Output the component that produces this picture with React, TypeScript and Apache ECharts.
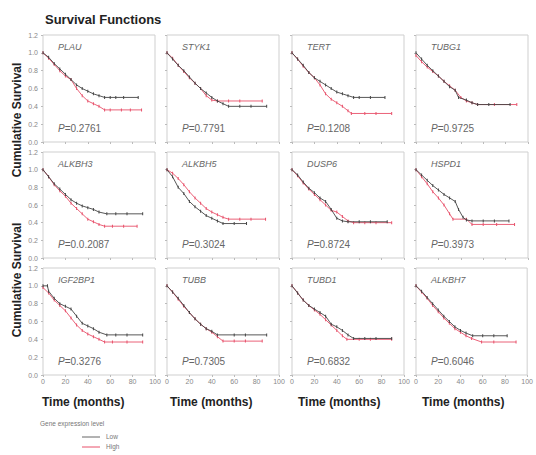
import React, { useEffect, useRef } from "react";
import * as echarts from "echarts";

const genes = ["PLAU", "STYK1", "TERT", "TUBG1", "ALKBH3", "ALKBH5", "DUSP6", "HSPD1", "IGF2BP1", "TUBB", "TUBD1", "ALKBH7"];
const pValues = ["0.2761", "0.7791", "0.1208", "0.9725", "0.0.2087", "0.3024", "0.8724", "0.3973", "0.3276", "0.7305", "0.6832", "0.6046"];

const PLAU_low = [[0, 1], [5, 0.95], [10, 0.88], [15, 0.82], [20, 0.76], [25, 0.7], [30, 0.64], [35, 0.6], [40, 0.57], [45, 0.54], [50, 0.52], [55, 0.5], [60, 0.5], [65, 0.5], [72, 0.5], [85, 0.5]];
const PLAU_high = [[0, 1], [5, 0.94], [10, 0.87], [15, 0.8], [20, 0.74], [25, 0.7], [30, 0.6], [35, 0.52], [40, 0.46], [45, 0.43], [50, 0.4], [55, 0.36], [60, 0.36], [70, 0.36], [78, 0.36], [88, 0.36]];
const STYK1_low = [[0, 1], [5, 0.93], [10, 0.86], [15, 0.8], [20, 0.73], [25, 0.66], [30, 0.6], [35, 0.55], [40, 0.5], [45, 0.46], [50, 0.43], [55, 0.4], [65, 0.4], [75, 0.4], [89, 0.4]];
const STYK1_high = [[0, 1], [5, 0.94], [10, 0.86], [15, 0.79], [20, 0.72], [25, 0.66], [30, 0.6], [35, 0.52], [40, 0.47], [45, 0.46], [55, 0.46], [65, 0.46], [85, 0.46]];
const TERT_low = [[0, 1], [5, 0.93], [10, 0.86], [15, 0.78], [20, 0.72], [25, 0.68], [30, 0.64], [35, 0.6], [40, 0.56], [45, 0.54], [50, 0.52], [55, 0.5], [60, 0.5], [70, 0.5], [83, 0.5]];
const TERT_high = [[0, 1], [5, 0.93], [10, 0.85], [15, 0.78], [20, 0.72], [25, 0.64], [30, 0.54], [35, 0.48], [40, 0.44], [45, 0.4], [50, 0.35], [53, 0.32], [65, 0.32], [75, 0.32], [89, 0.32]];
const TUBG1_low = [[0, 1], [5, 0.93], [10, 0.86], [15, 0.8], [20, 0.74], [25, 0.68], [30, 0.62], [35, 0.58], [38, 0.5], [45, 0.47], [50, 0.44], [55, 0.42], [65, 0.42], [84, 0.42]];
const TUBG1_high = [[0, 0.97], [5, 0.9], [10, 0.84], [15, 0.79], [20, 0.74], [25, 0.68], [30, 0.63], [35, 0.58], [40, 0.5], [45, 0.46], [50, 0.44], [55, 0.42], [70, 0.42], [90, 0.42]];
const ALKBH3_low = [[0, 1], [5, 0.92], [10, 0.84], [15, 0.78], [20, 0.72], [25, 0.66], [30, 0.62], [35, 0.59], [40, 0.57], [45, 0.55], [50, 0.52], [57, 0.5], [65, 0.5], [75, 0.5], [89, 0.5]];
const ALKBH3_high = [[0, 1], [5, 0.92], [10, 0.83], [15, 0.76], [20, 0.7], [25, 0.62], [30, 0.56], [35, 0.5], [40, 0.44], [45, 0.41], [50, 0.38], [55, 0.36], [62, 0.36], [72, 0.36], [84, 0.36]];
const ALKBH5_low = [[0, 1], [5, 0.92], [10, 0.8], [15, 0.73], [20, 0.64], [25, 0.58], [30, 0.53], [35, 0.48], [40, 0.45], [45, 0.42], [50, 0.39], [60, 0.39], [71, 0.39]];
const ALKBH5_high = [[0, 1], [5, 0.96], [10, 0.9], [15, 0.83], [20, 0.75], [25, 0.68], [30, 0.62], [35, 0.56], [40, 0.52], [45, 0.49], [50, 0.46], [55, 0.44], [65, 0.44], [75, 0.44], [88, 0.44]];
const DUSP6_low = [[0, 1], [5, 0.94], [10, 0.86], [15, 0.79], [20, 0.74], [25, 0.68], [30, 0.64], [35, 0.55], [40, 0.45], [45, 0.42], [50, 0.41], [60, 0.41], [70, 0.41], [85, 0.41]];
const DUSP6_high = [[0, 1], [5, 0.93], [10, 0.85], [15, 0.78], [20, 0.72], [25, 0.66], [30, 0.6], [35, 0.54], [40, 0.52], [45, 0.47], [50, 0.42], [55, 0.4], [65, 0.4], [75, 0.4], [89, 0.4]];
const HSPD1_low = [[0, 1], [5, 0.94], [10, 0.88], [15, 0.82], [20, 0.77], [25, 0.72], [30, 0.68], [35, 0.64], [38, 0.55], [42, 0.46], [45, 0.43], [50, 0.42], [60, 0.42], [70, 0.42], [83, 0.42]];
const HSPD1_high = [[0, 1], [5, 0.92], [10, 0.84], [15, 0.75], [20, 0.68], [25, 0.6], [30, 0.5], [33, 0.44], [45, 0.44], [50, 0.38], [60, 0.38], [72, 0.38], [88, 0.38]];
const IGF2BP1_low = [[0, 1], [4, 1.0], [5, 0.94], [10, 0.86], [15, 0.8], [20, 0.77], [25, 0.74], [30, 0.66], [35, 0.58], [40, 0.55], [45, 0.52], [50, 0.48], [57, 0.45], [65, 0.45], [75, 0.45], [89, 0.45]];
const IGF2BP1_high = [[0, 0.98], [5, 0.92], [10, 0.84], [15, 0.78], [20, 0.72], [25, 0.64], [30, 0.56], [35, 0.5], [40, 0.46], [45, 0.43], [50, 0.4], [55, 0.37], [62, 0.37], [75, 0.37], [89, 0.37]];
const TUBB_low = [[0, 1], [5, 0.93], [10, 0.86], [15, 0.78], [20, 0.7], [25, 0.63], [30, 0.57], [35, 0.52], [40, 0.49], [45, 0.45], [60, 0.45], [70, 0.45], [89, 0.45]];
const TUBB_high = [[0, 1], [5, 0.93], [10, 0.85], [15, 0.77], [20, 0.7], [25, 0.63], [30, 0.57], [35, 0.52], [40, 0.48], [45, 0.43], [50, 0.38], [60, 0.38], [70, 0.38], [85, 0.38]];
const TUBD1_low = [[0, 1], [5, 0.92], [10, 0.84], [15, 0.78], [20, 0.74], [25, 0.7], [30, 0.66], [35, 0.57], [40, 0.54], [45, 0.5], [50, 0.45], [55, 0.41], [65, 0.41], [75, 0.41], [89, 0.41]];
const TUBD1_high = [[0, 1], [5, 0.92], [10, 0.84], [15, 0.78], [20, 0.73], [25, 0.68], [30, 0.62], [35, 0.56], [40, 0.5], [45, 0.44], [49, 0.4], [60, 0.4], [70, 0.4], [89, 0.4]];
const ALKBH7_low = [[0, 1], [5, 0.94], [10, 0.87], [15, 0.8], [20, 0.73], [25, 0.66], [30, 0.6], [35, 0.54], [40, 0.5], [45, 0.47], [51, 0.44], [60, 0.44], [70, 0.44], [82, 0.44]];
const ALKBH7_high = [[0, 1], [5, 0.93], [10, 0.86], [15, 0.78], [20, 0.71], [25, 0.64], [30, 0.58], [35, 0.52], [40, 0.48], [45, 0.44], [50, 0.41], [59, 0.37], [70, 0.37], [90, 0.37]];

const lowCurves = [PLAU_low, STYK1_low, TERT_low, TUBG1_low, ALKBH3_low, ALKBH5_low, DUSP6_low, HSPD1_low, IGF2BP1_low, TUBB_low, TUBD1_low, ALKBH7_low];
const highCurves = [PLAU_high, STYK1_high, TERT_high, TUBG1_high, ALKBH3_high, ALKBH5_high, DUSP6_high, HSPD1_high, IGF2BP1_high, TUBB_high, TUBD1_high, ALKBH7_high];

const legendLabels = ["Low", "High"];

const colLefts = [43, 167, 292, 416];
const rowTops = [35, 152, 268];
const rowHeights = [107, 106, 107];
const panelW = 112;
const FONT = "Liberation Sans, Arial, sans-serif";
const LOW_COLOR = "#444";
const HIGH_COLOR = "#e8506a";

export default function App() {
  const ref = useRef<HTMLDivElement>(null);
  useEffect(() => {
    if (!ref.current) return;
    const chart = echarts.init(ref.current, null, { renderer: "svg" });
    const grids: any[] = [];
    const xAxes: any[] = [];
    const yAxes: any[] = [];
    const series: any[] = [];
    const graphics: any[] = [];

    genes.forEach((g, i) => {
      const r = Math.floor(i / 4);
      const c = i % 4;
      grids.push({
        left: colLefts[c],
        top: rowTops[r],
        width: panelW,
        height: rowHeights[r],
        show: true,
        borderColor: "#cfcfcf",
        borderWidth: 1,
        backgroundColor: "#fff",
      });
      xAxes.push({
        type: "value",
        gridIndex: i,
        min: 0,
        max: 100,
        interval: 20,
        axisLine: { show: false },
        axisTick: { show: true, length: 2, lineStyle: { color: "#bbb" } },
        splitLine: { show: false },
        axisLabel: {
          show: r === 2,
          fontSize: 7,
          color: "#888",
          margin: 3,
          fontFamily: FONT,
          showMaxLabel: true,
          showMinLabel: true,
        },
      });
      yAxes.push({
        type: "value",
        gridIndex: i,
        min: 0,
        max: 1.2,
        interval: 0.2,
        axisLine: { show: false },
        axisTick: { show: true, length: 2, lineStyle: { color: "#bbb" } },
        splitLine: { show: false },
        axisLabel: {
          show: c === 0,
          fontSize: 7,
          color: "#888",
          margin: 5,
          fontFamily: FONT,
          formatter: (v: number) => v.toFixed(1),
        },
      });
      series.push({
        type: "line",
        name: legendLabels[0],
        xAxisIndex: i,
        yAxisIndex: i,
        data: lowCurves[i],
        symbol: "rect",
        symbolSize: [1, 3],
        showSymbol: true,
        lineStyle: { color: LOW_COLOR, width: 0.9 },
        itemStyle: { color: LOW_COLOR },
        z: 3,
      });
      series.push({
        type: "line",
        name: legendLabels[1],
        xAxisIndex: i,
        yAxisIndex: i,
        data: highCurves[i],
        symbol: "rect",
        symbolSize: [1, 3],
        showSymbol: true,
        lineStyle: { color: HIGH_COLOR, width: 0.9 },
        itemStyle: { color: HIGH_COLOR },
        z: 2,
      });
      graphics.push({
        type: "text",
        left: colLefts[c] + 15,
        top: rowTops[r] + 7,
        style: {
          text: g,
          fontSize: 9,
          fontStyle: "italic",
          fill: "#666",
          fontFamily: FONT,
        },
      });
      graphics.push({
        type: "text",
        left: colLefts[c] + 15,
        top: rowTops[r] + rowHeights[r] - 19,
        style: {
          text: "{p|P}=" + pValues[i],
          fontSize: 10,
          fill: "#666",
          fontFamily: FONT,
          rich: { p: { fontStyle: "italic", fontSize: 10, fill: "#666", fontFamily: FONT } },
        },
      });
    });

    const timeLefts = [42, 170, 298, 422];
    timeLefts.forEach((x) => {
      graphics.push({
        type: "text",
        left: x,
        top: 396,
        style: { text: "Time (months)", fontSize: 12, fontWeight: "bold", fill: "#222", fontFamily: FONT },
      });
    });

    [120, 280].forEach((cy) => {
      graphics.push({
        type: "text",
        x: 17,
        y: cy,
        rotation: Math.PI / 2,
        style: {
          text: "Cumulative Survival",
          fontSize: 12,
          fontWeight: "bold",
          fill: "#222",
          fontFamily: FONT,
          align: "center",
          verticalAlign: "middle",
        },
      });
    });

    graphics.push({
      type: "text",
      left: 40,
      top: 420,
      style: { text: "Gene expression level", fontSize: 6.5, fill: "#777", fontFamily: FONT },
    });
    graphics.push({ type: "line", shape: { x1: 82, y1: 437, x2: 100, y2: 437 }, style: { stroke: "#666", lineWidth: 1 } });
    graphics.push({ type: "line", shape: { x1: 82, y1: 447, x2: 100, y2: 447 }, style: { stroke: HIGH_COLOR, lineWidth: 1 } });
    graphics.push({
      type: "text",
      left: 106,
      top: 433,
      style: { text: legendLabels[0], fontSize: 6.5, fill: "#777", fontFamily: FONT },
    });
    graphics.push({
      type: "text",
      left: 106,
      top: 443,
      style: { text: legendLabels[1], fontSize: 6.5, fill: "#777", fontFamily: FONT },
    });

    chart.setOption({
      animation: false,
      backgroundColor: "#fff",
      title: {
        text: "Survival Functions",
        left: 40,
        top: 8,
        textStyle: { fontSize: 13, fontWeight: "bold", color: "#222", fontFamily: FONT },
      },
      grid: grids,
      xAxis: xAxes,
      yAxis: yAxes,
      series,
      graphic: graphics,
    });
    return () => chart.dispose();
  }, []);
  return (
    <div
      ref={ref}
      style={{ position: "fixed", left: 0, top: 0, width: 536, height: 455, background: "#fff" }}
    />
  );
}
